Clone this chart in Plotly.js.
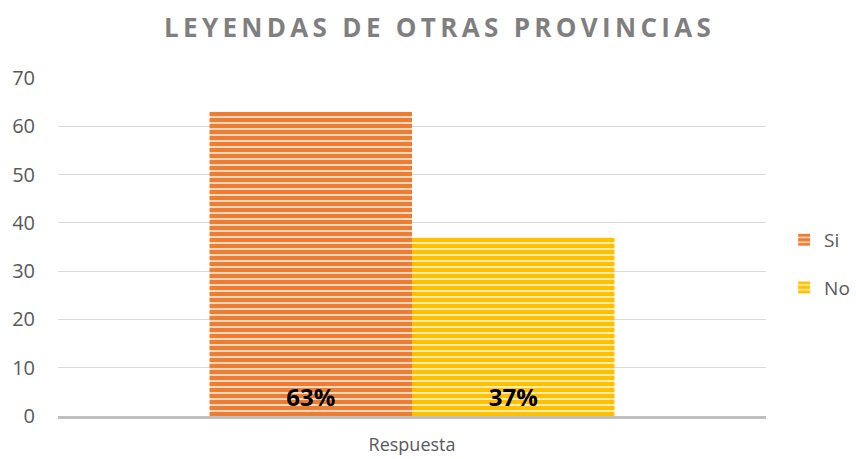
<!DOCTYPE html>
<html><head><meta charset="utf-8">
<script src="https://cdn.plot.ly/plotly-3.0.1.min.js"></script>
<style>html,body{margin:0;padding:0;background:#fff}</style>
</head><body><div id="chart" style="width:856px;height:459px"></div>
<script>
const categories = ["Respuesta"];
const seriesNames = ["Si", "No"];
const siValues = [63];
const noValues = [37];
const siLabels = ["63%"];
const noLabels = ["37%"];
const yTicks = [0, 10, 20, 30, 40, 50, 60, 70];
const titleText = "LEYENDAS DE OTRAS PROVINCIAS";

const spaced = titleText.split("").join("\u2009");

const mk = (name, vals, labels, color, lineColor, grp) => ({
  type: "bar", name: name, x: categories, y: vals, text: labels,
  textposition: "inside", insidetextanchor: "start", textangle: 0,
  textfont: {family: "Open Sans, sans-serif", size: 24, color: "#000", weight: "bold"},
  legendgroup: grp,
  marker: {color: color, line: {width: 0},
    pattern: {shape: "-", fgcolor: lineColor, bgcolor: color, size: 6, solidity: 0.3}},
  hoverinfo: "none"
});

const data = [
  mk(seriesNames[0], siValues, siLabels, "#ED7D31", "#FBE3D2", "g1"),
  mk(seriesNames[1], noValues, noLabels, "#FFC000", "#FFF0C0", "g2")
];

const layout = {
  width: 856, height: 459,
  margin: {l: 58, r: 90, t: 78, b: 43},
  paper_bgcolor: "#fff", plot_bgcolor: "#fff",
  title: {text: spaced, x: 0.511, xanchor: "center", xref: "container", y: 0.94, yanchor: "middle",
    font: {family: "Open Sans, sans-serif", size: 26, color: "#7F7F7F", weight: "bold"}},
  barmode: "group", bargap: 0.428, bargroupgap: 0,
  xaxis: {showgrid: false, showline: true, linecolor: "#BFBFBF", linewidth: 3,
    ticks: "", tickfont: {family: "Open Sans, sans-serif", size: 18, color: "#595959"},
    ticklabelstandoff: 10, fixedrange: true},
  yaxis: {range: [0, 70], tickvals: yTicks, showgrid: true, gridcolor: "#D9D9D9",
    gridwidth: 1, zeroline: false, showline: false, ticks: "", ticklen: 0,
    tickfont: {family: "Open Sans, sans-serif", size: 20, color: "#595959"},
    ticklabelstandoff: 22},
  showlegend: true,
  legend: {xref: "container", x: 0.916, xanchor: "left", yref: "paper", y: 0.45, yanchor: "middle",
    traceorder: "grouped", tracegroupgap: 20, itemwidth: 30,
    font: {family: "Open Sans, sans-serif", size: 19, color: "#595959"}},
  font: {family: "Open Sans, sans-serif"}
};

Plotly.newPlot("chart", data, layout, {displayModeBar: false, staticPlot: true});
</script></body></html>
